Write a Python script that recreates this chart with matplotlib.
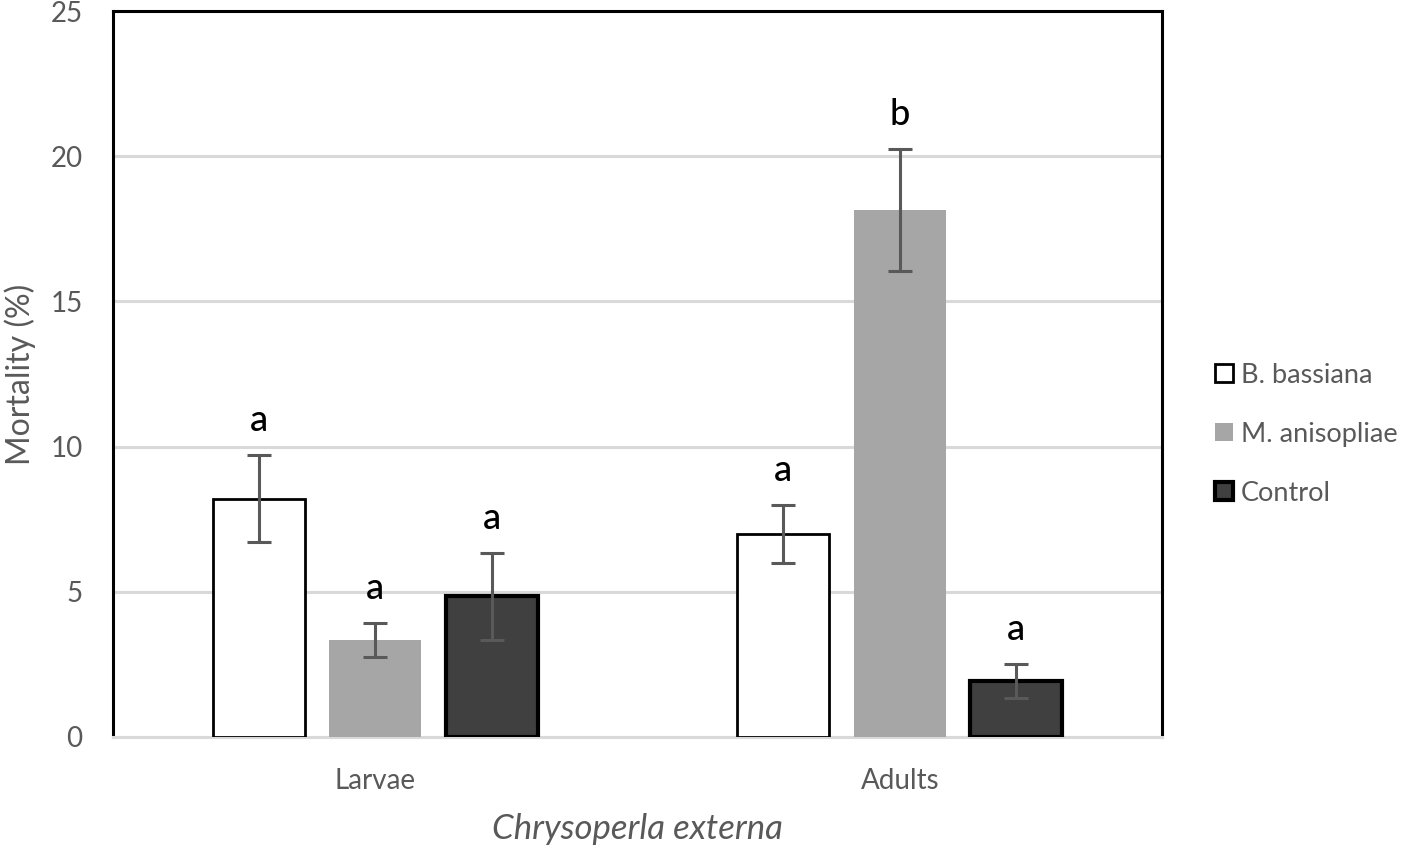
import numpy as np
import matplotlib
matplotlib.use('Agg')
import matplotlib.pyplot as plt
from matplotlib.patches import Patch

plt.rcParams['font.family'] = ['Lato', 'DejaVu Sans']

# data
stages = ['Larvae', 'Adults']
treatments = ['B. bassiana', 'M. anisopliae', 'Control']
mortality = {
    'B. bassiana': [8.2, 7.0],
    'M. anisopliae': [3.35, 18.15],
    'Control': [4.85, 1.93],
}
errors = {
    'B. bassiana': [1.5, 1.0],
    'M. anisopliae': [0.58, 2.1],
    'Control': [1.5, 0.58],
}
letters = {
    'B. bassiana': ['a', 'a'],
    'M. anisopliae': ['a', 'b'],
    'Control': ['a', 'a'],
}

face = {'B. bassiana': 'white', 'M. anisopliae': '#A6A6A6', 'Control': '#404040'}
edge = {'B. bassiana': 'black', 'M. anisopliae': '#A6A6A6', 'Control': 'black'}
lw = {'B. bassiana': 2.0, 'M. anisopliae': 0.0, 'Control': 3.0}

txt = '#595959'
fig = plt.figure(figsize=(14.18, 8.48), dpi=100)
ax = fig.add_axes([0.0797, 0.1309, 0.7398, 0.8561])

x = np.arange(len(stages))
width = 0.175
step = 0.222

for i, t in enumerate(treatments):
    xs = x + (i - 1) * step
    ax.bar(xs, mortality[t], width, color=face[t], edgecolor=edge[t],
           linewidth=lw[t], zorder=3)
    ax.errorbar(xs, mortality[t], yerr=errors[t], fmt='none', ecolor='#595959',
                elinewidth=2.2, capsize=8.5, capthick=2.2, zorder=4)
    for xi, m, e, lab in zip(xs, mortality[t], errors[t], letters[t]):
        ax.annotate(lab, (xi, m + e), xytext=(0, 13), textcoords='offset points',
                    ha='center', va='bottom', fontsize=26, color='black',
                    fontweight='medium')

ax.set_xlim(-0.5, 1.5)
ax.set_ylim(0, 25)
ax.set_yticks([0, 5, 10, 15, 20, 25])
ax.yaxis.grid(True, color='#D9D9D9', linewidth=2.2, zorder=0)
ax.set_axisbelow(True)
ax.set_xticks(x)
ax.set_xticklabels(stages)
ax.tick_params(length=0, labelsize=20, labelcolor=txt)
ax.tick_params(axis='x', pad=22)
ax.tick_params(axis='y', pad=22)

for s in ['left', 'top', 'right']:
    ax.spines[s].set_color('black')
    ax.spines[s].set_linewidth(2.2)
ax.spines['bottom'].set_color('#D9D9D9')
ax.spines['bottom'].set_linewidth(2.2)

ax.set_ylabel('Mortality (%)', fontsize=23, color=txt, labelpad=10)
ax.set_xlabel('Chrysoperla externa', fontsize=25, color=txt, style='italic', labelpad=14)

handles = [Patch(facecolor=face[t], edgecolor=edge[t], linewidth=lw[t]) for t in treatments]
fig.legend(handles, treatments, loc='center left', bbox_to_anchor=(0.840, 0.488),
           frameon=False, fontsize=19.5, labelcolor=txt, handlelength=0.65,
           handleheight=0.65, handletextpad=0.3, labelspacing=1.25)

fig.savefig('out.png', dpi=100)
